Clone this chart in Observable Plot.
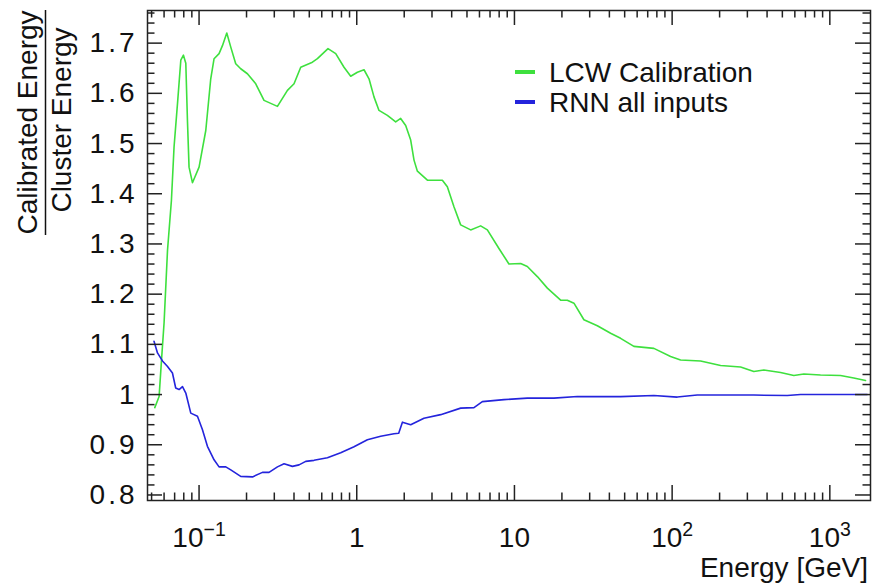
<!DOCTYPE html>
<html><head><meta charset="utf-8">
<script src="https://cdn.jsdelivr.net/npm/d3@7"></script>
<script src="https://cdn.jsdelivr.net/npm/@observablehq/plot@0.6"></script>
<style>body{margin:0;background:#fff;} svg{display:block;}</style>
</head><body><div id="chart"></div>
<script>
// LCW calibration curve (energy in GeV, calibrated/cluster ratio)
const lcwEnergy = [0.0524, 0.0558, 0.0578, 0.0600, 0.0631, 0.0668, 0.0694, 0.0730, 0.0766, 0.0796, 0.0824, 0.0844, 0.0864, 0.0908, 0.1, 0.1103, 0.1186, 0.1245, 0.1339, 0.1407, 0.1499, 0.1589, 0.1708, 0.1837, 0.2026, 0.2288, 0.2582, 0.3141, 0.3634, 0.4002, 0.4413, 0.5235, 0.5630, 0.6572, 0.7357, 0.8302, 0.9154, 1.0095, 1.112, 1.196, 1.286, 1.384, 1.564, 1.766, 1.899, 2.043, 2.198, 2.307, 2.424, 2.805, 3.491, 3.754, 4.135, 4.560, 5.276, 6.106, 6.733, 7.975, 9.228, 10.95, 12.07, 13.97, 16.17, 19.63, 21.64, 23.84, 27.58, 33.55, 40.72, 47.12, 57.22, 76.62, 97.77, 113.1, 151.5, 202.9, 271.7, 329.8, 381.6, 487.1, 591.3, 684.3, 873.0, 1169, 1419, 1684];
const lcwRatio = [0.974, 0.996, 1.069, 1.143, 1.288, 1.387, 1.493, 1.58, 1.666, 1.676, 1.66, 1.546, 1.453, 1.422, 1.453, 1.526, 1.629, 1.669, 1.679, 1.695, 1.72, 1.692, 1.659, 1.649, 1.639, 1.619, 1.586, 1.574, 1.606, 1.619, 1.652, 1.662, 1.669, 1.689, 1.679, 1.652, 1.634, 1.642, 1.647, 1.629, 1.593, 1.566, 1.556, 1.543, 1.55, 1.536, 1.507, 1.467, 1.445, 1.427, 1.427, 1.414, 1.374, 1.338, 1.328, 1.336, 1.328, 1.291, 1.26, 1.261, 1.255, 1.235, 1.212, 1.188, 1.188, 1.182, 1.149, 1.137, 1.122, 1.112, 1.096, 1.092, 1.076, 1.069, 1.067, 1.058, 1.055, 1.046, 1.049, 1.044, 1.038, 1.041, 1.039, 1.038, 1.033, 1.028];

// RNN all inputs curve
const rnnEnergy = [0.0518, 0.0545, 0.0586, 0.0631, 0.0678, 0.0711, 0.0747, 0.0785, 0.0824, 0.0886, 0.0977, 0.1051, 0.1130, 0.1245, 0.1339, 0.1477, 0.1589, 0.1837, 0.2181, 0.2523, 0.2778, 0.3141, 0.3458, 0.3909, 0.4305, 0.4747, 0.5358, 0.6515, 0.7911, 0.9607, 1.168, 1.418, 1.722, 1.845, 1.948, 2.198, 2.668, 3.405, 4.56, 5.538, 6.259, 8.58, 12.07, 17.80, 25.04, 47.12, 76.62, 107.8, 144.3, 329.8, 537, 652, 1726];
const rnnRatio = [1.106, 1.083, 1.067, 1.056, 1.043, 1.013, 1.01, 1.016, 1.003, 0.963, 0.957, 0.93, 0.897, 0.87, 0.856, 0.856, 0.85, 0.837, 0.836, 0.845, 0.845, 0.856, 0.862, 0.857, 0.86, 0.867, 0.869, 0.874, 0.884, 0.896, 0.91, 0.917, 0.922, 0.923, 0.945, 0.94, 0.953, 0.96, 0.973, 0.974, 0.986, 0.99, 0.993, 0.993, 0.996, 0.996, 0.998, 0.995, 0.999, 0.999, 0.998, 1.0, 1.0];

const seriesNames = ["LCW Calibration", "RNN all inputs"];
const seriesColors = ["#3ee03e", "#2424dc"];

// axis ticks and labels
const xMajor = [0.1, 1, 10, 100, 1000];
const xTickLabels = ["10^−1", "1", "10", "10^2", "10^3"];
const xMinor = [0.05, 0.06, 0.07, 0.08, 0.09, 0.2, 0.3, 0.4, 0.5, 0.6, 0.7, 0.8, 0.9, 2, 3, 4, 5, 6, 7, 8, 9, 20, 30, 40, 50, 60, 70, 80, 90, 200, 300, 400, 500, 600, 700, 800, 900];
const yMajor = [0.8, 0.9, 1.0, 1.1, 1.2, 1.3, 1.4, 1.5, 1.6, 1.7];
const yTickLabels = ["0.8", "0.9", "1", "1.1", "1.2", "1.3", "1.4", "1.5", "1.6", "1.7"];
const yMinor = d3.range(40, 89).map(i => i / 50).filter(v => Math.abs(v * 10 - Math.round(v * 10)) > 1e-6);

const xTitle = "Energy [GeV]";
const yTitleNum = "Calibrated Energy";
const yTitleDen = "Cluster Energy";

const lcw = lcwEnergy.map((e, i) => ({e, r: lcwRatio[i]}));
const rnn = rnnEnergy.map((e, i) => ({e, r: rnnRatio[i]}));

const W = 875, H = 586, mL = 147, mR = 5, mT = 10, mB = 86;
const fw = W - mL - mR, fh = H - mT - mB;
const axisColor = "#222";
const font = "'Liberation Sans', Arial, Helvetica, sans-serif";

const plot = Plot.plot({
  width: W, height: H,
  marginLeft: mL, marginRight: mR, marginTop: mT, marginBottom: mB,
  style: {fontFamily: font, color: "#111", background: "#fff"},
  x: {type: "log", domain: [0.0471, 1811]},
  y: {domain: [0.789, 1.765]},
  marks: [
    Plot.line(lcw, {x: "e", y: "r", stroke: seriesColors[0], strokeWidth: 1.6}),
    Plot.line(rnn, {x: "e", y: "r", stroke: seriesColors[1], strokeWidth: 1.6}),
    // bottom ticks
    Plot.tickX(xMajor, {x: d => d, insetTop: fh - 15, stroke: axisColor, strokeWidth: 1.5}),
    Plot.tickX(xMinor, {x: d => d, insetTop: fh - 7.5, stroke: axisColor, strokeWidth: 1.5}),
    // top ticks
    Plot.tickX(xMajor, {x: d => d, insetBottom: fh - 15, stroke: axisColor, strokeWidth: 1.5}),
    Plot.tickX(xMinor, {x: d => d, insetBottom: fh - 7.5, stroke: axisColor, strokeWidth: 1.5}),
    // left ticks
    Plot.tickY(yMajor, {y: d => d, insetRight: fw - 15, stroke: axisColor, strokeWidth: 1.5}),
    Plot.tickY(yMinor, {y: d => d, insetRight: fw - 7.5, stroke: axisColor, strokeWidth: 1.5}),
    // right ticks
    Plot.tickY(yMajor, {y: d => d, insetLeft: fw - 15, stroke: axisColor, strokeWidth: 1.5}),
    Plot.tickY(yMinor, {y: d => d, insetLeft: fw - 7.5, stroke: axisColor, strokeWidth: 1.5}),
    Plot.axisX(xMajor, {tickSize: 0, tickPadding: 27, fontSize: 28, fill: "#111",
      tickFormat: d => xTickLabels[xMajor.indexOf(d)], label: null}),
    Plot.axisY(yMajor, {tickSize: 0, tickPadding: 10, fontSize: 28, fill: "#111",
      tickFormat: d => yTickLabels[yMajor.findIndex(v => Math.abs(v - d) < 1e-9)], label: null}),
    Plot.frame({stroke: axisColor, strokeWidth: 1.5})
  ]
});

const svg = d3.select(plot);
// superscripts on x tick labels
svg.selectAll('g[aria-label="x-axis tick label"] text').each(function () {
  const s = this.textContent;
  if (s.includes("^")) {
    const [base, exp] = s.split("^");
    const t = d3.select(this);
    t.text(base);
    t.append("tspan").attr("dy", -11).attr("font-size", 19.5).text(exp);
  }
});
// wider spacing of y tick labels, as in the reference
svg.selectAll('g[aria-label="y-axis tick label"]').attr("letter-spacing", "3px");

const txt = (x, y, s, opts = {}) => svg.append("text")
  .attr("x", x).attr("y", y).attr("font-family", font).attr("font-size", opts.size || 28)
  .attr("fill", "#111").attr("text-anchor", opts.anchor || "start")
  .attr("transform", opts.rotate ? `rotate(${opts.rotate},${x},${y})` : null).text(s);

// x title
txt(868, 577, xTitle, {anchor: "end"});
// y title as a fraction
txt(37, 122.5, yTitleNum, {anchor: "middle", rotate: -90});
txt(71, 120, yTitleDen, {anchor: "middle", rotate: -90});
svg.append("line").attr("x1", 45.5).attr("x2", 45.5).attr("y1", 10).attr("y2", 235)
  .attr("stroke", "#111").attr("stroke-width", 1.5);

// legend
const legendY = [72, 102];
seriesNames.forEach((name, i) => {
  svg.append("line").attr("x1", 515).attr("x2", 535).attr("y1", legendY[i]).attr("y2", legendY[i])
    .attr("stroke", seriesColors[i]).attr("stroke-width", 4);
  txt(549, legendY[i] + 10, name);
});

document.getElementById("chart").appendChild(plot);
</script>
</body></html>
